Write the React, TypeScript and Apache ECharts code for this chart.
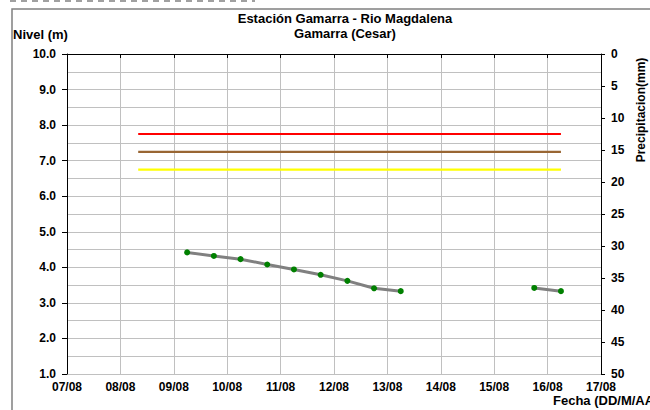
import React, { useEffect, useRef } from "react";
import * as echarts from "echarts";

const titleLines = ["Estación Gamarra - Rio Magdalena", "Gamarra (Cesar)"];
const yLeftName = "Nivel (m)";
const yRightName = "Precipitacion(mm)";
const xName = "Fecha (DD/M/AAAA)";

// observation times (DD/MM HH:mm) and levels (m)
const levelTimes = [
  "09/08 06:00", "09/08 18:00", "10/08 06:00", "10/08 18:00", "11/08 06:00",
  "11/08 18:00", "12/08 06:00", "12/08 18:00", "13/08 06:00",
  "15/08 18:00", "16/08 06:00",
];
const levelValues = [4.42, 4.32, 4.23, 4.08, 3.94, 3.79, 3.62, 3.41, 3.33, 3.42, 3.33];
// index after which the series is interrupted (no data)
const gapAfter = 8;

// alert thresholds (m)
const thresholdStart = "08/08 08:00";
const thresholdEnd = "16/08 06:00";
const redLevel = 7.75;
const brownLevel = 7.25;
const yellowLevel = 6.75;

const xStartDay = 7; // 07/08
const xEndDay = 17; // 17/08

function toDays(s: string): number {
  const [d, hm] = s.split(" ");
  const day = parseInt(d.split("/")[0], 10);
  const [h, m] = hm.split(":").map((v) => parseInt(v, 10));
  return day + (h + m / 60) / 24;
}

export default function App() {
  const ref = useRef<HTMLDivElement>(null);
  useEffect(() => {
    if (!ref.current) return;
    const chart = echarts.init(ref.current, undefined, { renderer: "svg" });
    const font = "'Liberation Sans', Arial, sans-serif";
    const levelData: any[] = [];
    levelTimes.forEach((t, i) => {
      levelData.push([toDays(t), levelValues[i]]);
      if (i === gapAfter) levelData.push([toDays(t) + 0.01, null]);
    });
    const thr = (v: number) => [
      [toDays(thresholdStart), v],
      [toDays(thresholdEnd), v],
    ];
    const gridColor = "#c0c0c0";
    const labelStyle = {
      color: "#000",
      fontWeight: "bold" as const,
      fontSize: 12,
      fontFamily: font,
    };
    const txt = (
      text: string,
      x: number,
      y: number,
      size: number,
      align: string,
      extra: any = {}
    ) => ({
      type: "text",
      x,
      y,
      ...extra,
      style: {
        text,
        fontFamily: font,
        fontWeight: "bold",
        fontSize: size,
        fill: "#000",
        align,
        verticalAlign: extra.vAlign || "top",
      },
    });
    chart.setOption({
      animation: false,
      backgroundColor: "#ffffff",
      textStyle: { fontFamily: font },
      grid: { left: 67, right: 49, top: 54, bottom: 36 },
      xAxis: {
        type: "value",
        min: xStartDay,
        max: xEndDay,
        interval: 1,
        axisLine: { lineStyle: { color: "#000", width: 1 } },
        axisTick: { show: true, length: 4, lineStyle: { color: "#000" } },
        axisLabel: {
          ...labelStyle,
          margin: 7,
          formatter: (v: number) => String(Math.round(v)).padStart(2, "0") + "/08",
        },
        splitLine: { show: true, lineStyle: { color: gridColor, width: 1 } },
      },
      yAxis: [
        {
          type: "value",
          min: 1,
          max: 10,
          interval: 1,
          axisLine: { show: true, lineStyle: { color: "#000", width: 1 } },
          axisTick: { show: true, length: 5, lineStyle: { color: "#000" } },
          axisLabel: {
            ...labelStyle,
            margin: 11,
            formatter: (v: number) => v.toFixed(1),
          },
          splitLine: { show: true, lineStyle: { color: gridColor, width: 1 } },
          minorTick: { show: false, splitNumber: 2 },
          minorSplitLine: { show: true, lineStyle: { color: gridColor, width: 1 } },
        },
        {
          type: "value",
          min: 0,
          max: 50,
          interval: 5,
          inverse: true,
          position: "right",
          axisLine: { show: true, lineStyle: { color: "#000", width: 1 } },
          axisTick: { show: true, length: 4, lineStyle: { color: "#000" } },
          axisLabel: { ...labelStyle, margin: 10 },
          splitLine: { show: false },
        },
      ],
      series: [
        {
          type: "line",
          data: thr(redLevel),
          showSymbol: false,
          lineStyle: { color: "#ff0000", width: 2.2 },
          silent: true,
        },
        {
          type: "line",
          data: thr(brownLevel),
          showSymbol: false,
          lineStyle: { color: "#996633", width: 2.2 },
          silent: true,
        },
        {
          type: "line",
          data: thr(yellowLevel),
          showSymbol: false,
          lineStyle: { color: "#ffff00", width: 2.2 },
          silent: true,
        },
        {
          type: "line",
          data: levelData,
          connectNulls: false,
          symbol: "circle",
          symbolSize: 6,
          showSymbol: true,
          itemStyle: { color: "#008000" },
          lineStyle: { color: "#808080", width: 3 },
        },
      ],
      graphic: [
        {
          type: "line",
          shape: { x1: 10, y1: 1, x2: 255, y2: 1 },
          style: { stroke: "#a0a0a0", lineWidth: 2, lineDash: [6, 5] },
          silent: true,
        },
        {
          type: "rect",
          shape: { x: 12, y: 9, width: 800, height: 600 },
          style: { fill: "none", stroke: "#808080", lineWidth: 1.5 },
          silent: true,
        },
        txt(titleLines[0], 345, 12, 13, "center"),
        txt(titleLines[1], 345, 27, 13, "center"),
        txt(yLeftName, 13, 28, 13, "left"),
        txt(yRightName, 641, 110, 12, "center", {
          rotation: Math.PI / 2,
          vAlign: "middle",
        }),
        txt(xName, 553, 394, 13, "left"),
      ],
    });
    return () => chart.dispose();
  }, []);
  return (
    <div
      ref={ref}
      style={{ position: "fixed", left: 0, top: 0, width: 650, height: 410 }}
    />
  );
}
